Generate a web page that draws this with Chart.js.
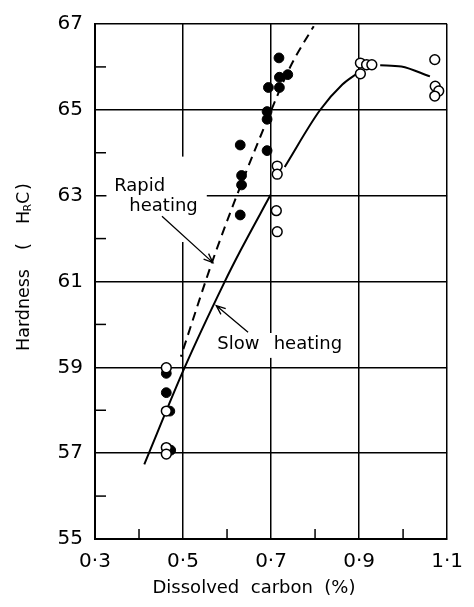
<!DOCTYPE html>
<html>
<head>
<meta charset="utf-8">
<script src="https://cdn.jsdelivr.net/npm/chart.js@4.4.1/dist/chart.umd.min.js"></script>
<style>
  html, body { margin: 0; padding: 0; background: #fff; }
  #wrap { width: 474px; height: 607px; }
</style>
</head>
<body>
<div id="wrap"><canvas id="chart" width="474" height="607"></canvas></div>
<script>
// axis ticks
const xMajor = [0.3, 0.5, 0.7, 0.9, 1.1];
const xMinor = [0.4, 0.6, 0.8, 1.0];
const yMajor = [55, 57, 59, 61, 63, 65, 67];
const yMinor = [56, 58, 60, 62, 64, 66];

// rapid heating measurements (filled circles)
const rapidC = [0.718, 0.719, 0.738, 0.694, 0.719, 0.691, 0.691, 0.630, 0.691, 0.633, 0.633, 0.630, 0.462, 0.462, 0.470, 0.472];
const rapidH = [66.21, 65.76, 65.82, 65.52, 65.52, 64.96, 64.78, 64.18, 64.05, 63.47, 63.25, 62.55, 58.86, 58.41, 57.98, 57.07];

// slow heating measurements (open circles)
const slowC = [0.462, 0.462, 0.462, 0.462, 0.714, 0.714, 0.712, 0.714, 0.903, 0.903, 0.917, 0.929, 1.072, 1.073, 1.081, 1.072];
const slowH = [58.99, 57.98, 57.13, 56.98, 63.69, 63.50, 62.65, 62.16, 66.09, 65.84, 66.05, 66.05, 66.17, 65.55, 65.44, 65.32];

// fitted curves
const rapidCurveC = [0.495, 0.575, 0.700, 0.746, 0.797];
const rapidCurveH = [59.25, 61.71, 64.98, 66.05, 66.95];
const slowLowC = [0.412, 0.503, 0.594, 0.630, 0.699];
const slowLowH = [56.74, 58.98, 60.98, 61.71, 63.02];
const slowMidC = [0.731, 0.811, 0.862, 0.897];
const slowMidH = [63.67, 64.99, 65.59, 65.86];
const slowTopC = [0.948, 0.996, 1.061];
const slowTopH = [66.04, 66.01, 65.78];

const pts = (xs, ys) => xs.map((v, i) => ({ x: v, y: ys[i] }));

const FONT = "'DejaVu Sans', sans-serif";

function arrow(ctx, x0, y0, x1, y1) {
    const a = Math.atan2(y1 - y0, x1 - x0);
    const len = 10, spread = 0.38;
    ctx.beginPath();
    ctx.moveTo(x0, y0);
    ctx.lineTo(x1, y1);
    ctx.moveTo(x1 - len * Math.cos(a - spread), y1 - len * Math.sin(a - spread));
    ctx.lineTo(x1, y1);
    ctx.lineTo(x1 - len * Math.cos(a + spread), y1 - len * Math.sin(a + spread));
    ctx.stroke();
}

const extras = {
    id: 'extras',
    beforeDatasetsDraw(chart) {
        const { ctx, scales: { x, y } } = chart;
        ctx.save();
        // white space behind the labels (the grid is broken there)
        ctx.fillStyle = '#fff';
        [[0.326, 0.554, 63.91, 61.92], [0.572, 0.859, 59.80, 59.22]].forEach(b => {
            const x0 = x.getPixelForValue(b[0]), x1 = x.getPixelForValue(b[1]);
            const y0 = y.getPixelForValue(b[2]), y1 = y.getPixelForValue(b[3]);
            ctx.fillRect(x0, y0, x1 - x0, y1 - y0);
        });
        // inward minor ticks
        ctx.strokeStyle = '#000';
        ctx.lineWidth = 1.5;
        xMinor.forEach(v => {
            const px = x.getPixelForValue(v);
            ctx.beginPath(); ctx.moveTo(px, y.bottom); ctx.lineTo(px, y.bottom - 10); ctx.stroke();
        });
        yMinor.forEach(v => {
            const py = y.getPixelForValue(v);
            ctx.beginPath(); ctx.moveTo(x.left, py); ctx.lineTo(x.left + 11, py); ctx.stroke();
        });
        ctx.restore();
    },
    afterDraw(chart) {
        const { ctx, scales: { x, y } } = chart;
        ctx.save();
        ctx.fillStyle = '#000';
        ctx.strokeStyle = '#000';
        ctx.textBaseline = 'alphabetic';
        ctx.textAlign = 'left';
        ctx.font = '18px ' + FONT;
        ctx.fillText('Rapid', x.getPixelForValue(0.3435), y.getPixelForValue(63.11));
        ctx.fillText('heating', x.getPixelForValue(0.378), y.getPixelForValue(62.64));
        ctx.fillText('Slow', x.getPixelForValue(0.578), y.getPixelForValue(59.43));
        ctx.fillText('heating', x.getPixelForValue(0.706), y.getPixelForValue(59.43));

        ctx.lineWidth = 1.3;
        arrow(ctx, x.getPixelForValue(0.4522), y.getPixelForValue(62.52), x.getPixelForValue(0.568), y.getPixelForValue(61.44));
        arrow(ctx, x.getPixelForValue(0.6478), y.getPixelForValue(59.82), x.getPixelForValue(0.5754), y.getPixelForValue(60.44));

        // x axis title
        ctx.textAlign = 'center';
        ctx.fillText('Dissolved  carbon  (%)', 254, 593);

        // y axis title, with subscript R
        ctx.translate(24, 351);
        ctx.rotate(-Math.PI / 2);
        ctx.textAlign = 'left';
        ctx.textBaseline = 'middle';
        ctx.font = '17.5px ' + FONT;
        ctx.fillText('Hardness', 0, 0);
        ctx.fillText('(', 101, 0);
        ctx.fillText('H', 127, 0);
        ctx.font = '11px ' + FONT;
        ctx.fillText('R', 139.5, 4);
        ctx.font = '17.5px ' + FONT;
        ctx.fillText('C', 147, 0);
        ctx.fillText(')', 161, 0);
        ctx.restore();
    }
};

const solid = { type: 'line', borderColor: '#000', borderWidth: 2, pointRadius: 0, fill: false, cubicInterpolationMode: 'monotone', showLine: true, order: 3 };

new Chart(document.getElementById('chart'), {
    type: 'scatter',
    data: {
        datasets: [
            {
                label: 'Slow heating (points)',
                data: pts(slowC, slowH),
                pointRadius: 4.9,
                pointBackgroundColor: '#fff',
                pointBorderColor: '#000',
                pointBorderWidth: 1.5,
                order: 1
            },
            {
                label: 'Rapid heating (points)',
                data: pts(rapidC, rapidH),
                pointRadius: 4.9,
                pointBackgroundColor: '#000',
                pointBorderColor: '#000',
                pointBorderWidth: 1,
                order: 2
            },
            Object.assign({ label: 'Rapid heating', data: pts(rapidCurveC, rapidCurveH), borderDash: [9, 6], borderDashOffset: 7 }, solid),
            Object.assign({ label: 'Slow heating', data: pts(slowLowC, slowLowH) }, solid),
            Object.assign({ label: 'Slow heating', data: pts(slowMidC, slowMidH) }, solid),
            Object.assign({ label: 'Slow heating', data: pts(slowTopC, slowTopH) }, solid)
        ]
    },
    options: {
        responsive: false,
        animation: false,
        layout: { autoPadding: false, padding: { left: 0, right: 11, top: 19, bottom: 0 } },
        plugins: { legend: { display: false }, tooltip: { enabled: false } },
        scales: {
            x: {
                type: 'linear',
                min: 0.3,
                max: 1.1,
                afterBuildTicks: s => { s.ticks = xMajor.map(v => ({ value: v })); },
                afterFit: s => { s.height = 68; },
                border: { color: '#000', width: 2 },
                grid: { color: '#000', lineWidth: 1.5, drawTicks: false },
                ticks: {
                    color: '#000',
                    padding: 11,
                    font: { family: FONT, size: 20 },
                    maxRotation: 0,
                    autoSkip: false,
                    callback: v => v.toFixed(1).replace('.', '·')
                }
            },
            y: {
                type: 'linear',
                min: 55,
                max: 67,
                afterBuildTicks: s => { s.ticks = yMajor.map(v => ({ value: v })); },
                afterFit: s => { s.width = 95; },
                border: { color: '#000', width: 2 },
                grid: { color: '#000', lineWidth: 1.5, drawTicks: false },
                ticks: {
                    color: '#000',
                    padding: 12,
                    font: { family: FONT, size: 20 },
                    autoSkip: false,
                    callback: v => String(v)
                }
            }
        }
    },
    plugins: [extras]
});
</script>
</body>
</html>
